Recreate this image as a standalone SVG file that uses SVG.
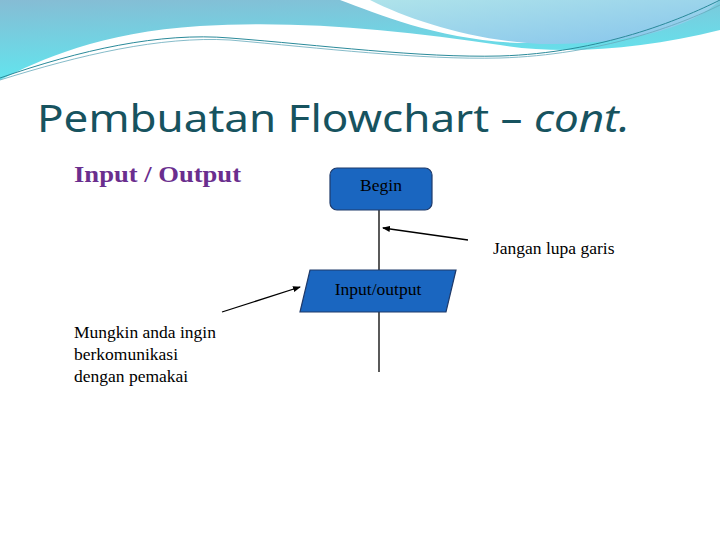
<svg xmlns="http://www.w3.org/2000/svg" width="720" height="540" viewBox="0 0 720 540">
<defs>
<linearGradient id="g1" x1="0" y1="0" x2="0.3" y2="1"><stop offset="0" stop-color="#86bcd4"/><stop offset="1" stop-color="#5fe8f0"/></linearGradient>
<linearGradient id="g2" x1="0" y1="0" x2="1" y2="1"><stop offset="0" stop-color="#b0e4ea"/><stop offset="1" stop-color="#86c4ec"/></linearGradient>
<marker id="ah" markerWidth="8" markerHeight="6" refX="7" refY="3" orient="auto" markerUnits="userSpaceOnUse"><path d="M0,0 L8,3 L0,6 Z" fill="#000"/></marker>
<style>
.s{font-family:"Liberation Serif",serif;font-size:17.5px;fill:#000}
.n{stroke:#1f3a6a;stroke-width:1.2;fill:#1a66c0}
.c{stroke:#000;stroke-width:1.3;fill:none}
</style>
</defs>
<rect width="720" height="540" fill="#fff"/>
<path d="M0,0 H720 V30 C640,50 560,55 500,45 C400,30 300,20 200,26 C100,32 40,60 0,80 Z" fill="url(#g1)"/>
<path d="M320,0 H720 C690,20 640,45 520,43 C440,40 380,15 340,0 Z" fill="#fff"/>
<path d="M345,0 H720 C700,20 650,45 540,44 C470,40 410,20 370,0 Z" fill="url(#g2)"/>
<path d="M0,78 C80,50 160,32 230,38 C320,45 420,58 500,56 C600,53 680,20 720,0" fill="none" stroke="#2a8a9a" stroke-width="1"/>
<path d="M0,80 C80,55 160,36 230,40 C320,48 420,60 500,58 C600,55 680,25 720,5" fill="none" stroke="#6ab" stroke-width="0.8"/>
<text x="37" y="132" font-family="'Noto Sans',sans-serif" font-size="39" fill="#17535f" textLength="593" lengthAdjust="spacingAndGlyphs">Pembuatan Flowchart – <tspan font-style="italic">cont.</tspan></text>
<text x="74" y="182" font-family="'Liberation Serif',serif" font-size="23" font-weight="bold" fill="#6a2e8e" textLength="167" lengthAdjust="spacingAndGlyphs">Input / Output</text>
<g id="connectors">
<line class="c" x1="379" y1="210" x2="379" y2="270"/>
<line class="c" x1="379" y1="312" x2="379" y2="372"/>
<line class="c" x1="468" y1="240" x2="383" y2="228" marker-end="url(#ah)"/>
<line class="c" x1="222" y1="312" x2="300" y2="287" marker-end="url(#ah)"/>
</g>
<g id="begin"><rect class="n" x="330" y="168" width="102" height="42" rx="7"/><text class="s" x="381" y="191" text-anchor="middle" fill="#0a1a40">Begin</text></g>
<g id="io"><polygon class="n" points="310,270 456,270 446,312 300,312"/><text class="s" x="378" y="295" text-anchor="middle" fill="#0a1a40">Input/output</text></g>
<g id="note1"><text class="s" x="493" y="254">Jangan lupa garis</text></g>
<g id="note2"><text class="s" x="74" y="338">Mungkin anda ingin</text><text class="s" x="74" y="360">berkomunikasi</text><text class="s" x="74" y="382">dengan pemakai</text></g>
</svg>
